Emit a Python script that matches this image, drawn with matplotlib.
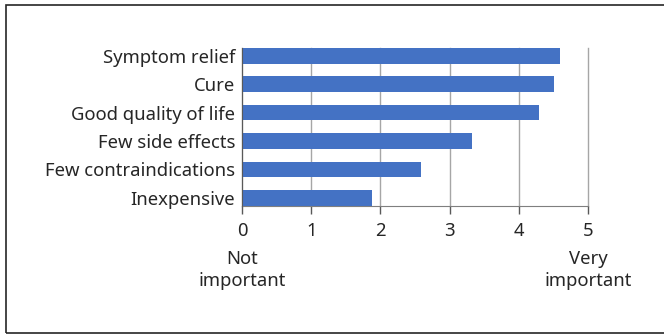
import matplotlib
matplotlib.use("Agg")
import matplotlib.pyplot as plt
from matplotlib.patches import Rectangle

categories = ["Symptom relief", "Cure", "Good quality of life", "Few side effects",
              "Few contraindications", "Inexpensive"]
values = [4.60, 4.51, 4.29, 3.32, 2.59, 1.88]
xticks = [0, 1, 2, 3, 4, 5]
end_labels = ["Not\nimportant", "Very\nimportant"]

plt.rcParams['font.family'] = ['Noto Sans', 'DejaVu Sans']
FS = 13.3
W, H = 664, 336
fig = plt.figure(figsize=(W/100, H/100), dpi=100)
ax = fig.add_axes([242/W, 1-205.6/H, (588-242)/W, (205.6-48)/H])

n = len(categories)
ypos = list(range(n))[::-1]
ax.barh(ypos, values, height=0.55, color="#4472C4", zorder=3)
ax.set_ylim(-0.275, n - 1 + 0.275)
ax.set_xlim(0, 5)
ax.set_yticks(ypos)
ax.set_yticklabels(categories, fontsize=FS, color="#262626")
ax.set_xticks(xticks)
ax.set_xticklabels([str(t) for t in xticks], fontsize=FS, color="#262626")
ax.tick_params(axis='y', length=0, pad=5)
ax.tick_params(axis='x', length=5.5, width=1, color="#595959", pad=6)
ax.grid(axis='x', color="#a6a6a6", linewidth=1, zorder=0)
for gl in ax.get_xgridlines():
    gl.set_clip_on(False)
for s in ['top', 'right']:
    ax.spines[s].set_visible(False)
ax.spines['left'].set_color("#595959")
ax.spines['bottom'].set_color("#7f7f7f")
ax.spines['left'].set_zorder(4)

for xv, lab in zip([0, 5], end_labels):
    ax.annotate(lab, xy=(xv, 0), xycoords=ax.get_xaxis_transform(),
                xytext=(0, -32), textcoords='offset points', ha='center', va='top',
                fontsize=FS, color="#262626", linespacing=1.3)

fig.patches.append(Rectangle((6/W, 3/H), 700/W, 328/H, transform=fig.transFigure,
                             fill=False, edgecolor="#262626", linewidth=1.2))
fig.savefig("out.png", dpi=100)
